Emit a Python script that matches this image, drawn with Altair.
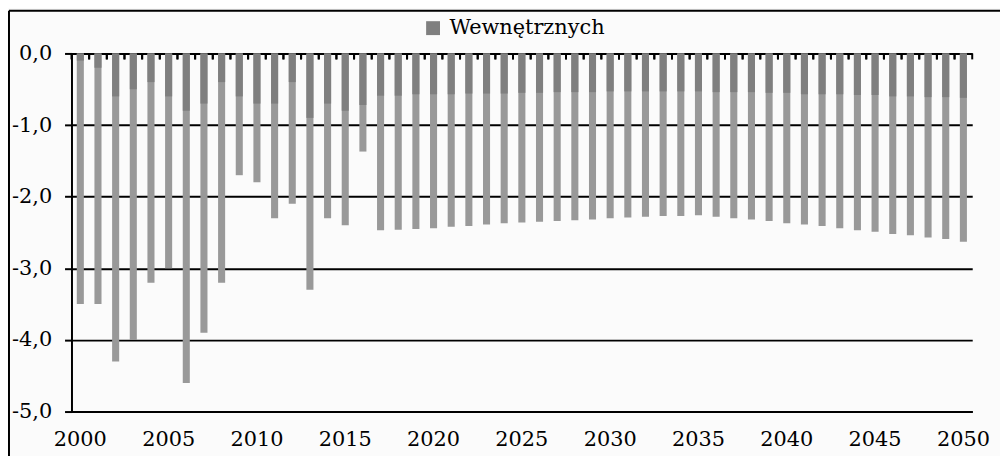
import altair as alt
import pandas as pd

years = list(range(2000, 2051))
label_years = [2000, 2005, 2010, 2015, 2020, 2025, 2030, 2035, 2040, 2045, 2050]

# "Wewnętrznych" (dark segment)
wewn = [-0.10, -0.20, -0.60, -0.50, -0.40, -0.60, -0.80, -0.70, -0.40, -0.60,
        -0.70, -0.70, -0.40, -0.90, -0.70, -0.80, -0.72, -0.59, -0.59, -0.57,
        -0.57, -0.57, -0.56, -0.56, -0.56, -0.55, -0.55, -0.54, -0.54, -0.54,
        -0.53, -0.53, -0.53, -0.53, -0.53, -0.53, -0.54, -0.54, -0.54, -0.55,
        -0.55, -0.57, -0.57, -0.57, -0.58, -0.58, -0.60, -0.60, -0.61, -0.61,
        -0.62]

# full bar length (light bar)
ogolem = [-3.50, -3.50, -4.30, -4.00, -3.20, -3.00, -4.60, -3.90, -3.20, -1.70,
          -1.80, -2.30, -2.10, -3.30, -2.30, -2.40, -1.37, -2.47, -2.46, -2.45,
          -2.44, -2.42, -2.41, -2.39, -2.37, -2.36, -2.35, -2.34, -2.33, -2.32,
          -2.30, -2.29, -2.28, -2.27, -2.27, -2.26, -2.28, -2.30, -2.32, -2.34,
          -2.37, -2.39, -2.41, -2.44, -2.47, -2.49, -2.52, -2.54, -2.57, -2.59,
          -2.63]

series_name = "Wewnętrznych"

df = pd.DataFrame({
    "rok": years,
    "wewn": wewn,
    "ogolem": ogolem,
    "seria": [series_name] * len(years),
})

FONT = "DejaVu Serif"
FS = 21

x_enc = alt.X(
    "rok:O",
    scale=alt.Scale(paddingInner=0, paddingOuter=0),
    axis=alt.Axis(
        values=label_years, title=None, labelAngle=0, ticks=False,
        domain=True, domainColor="black", domainWidth=2,
        labelFontSize=FS, labelPadding=17, labelColor="black",
        labelFont=FONT, grid=False,
    ),
)

y_enc = alt.Y(
    "ogolem:Q",
    scale=alt.Scale(domain=[-5, 0], nice=False),
    axis=alt.Axis(
        values=[-5, -4, -3, -2, -1, 0],
        labelExpr="(datum.value < 0 ? '-' : '') + replace(format(abs(datum.value), '.1f'), '.', ',')",
        title=None, grid=True, gridColor="black", gridWidth=2,
        domainColor="black", domainWidth=2, tickColor="black", tickWidth=2,
        tickSize=7, labelPadding=13, labelFontSize=FS, labelColor="black",
        labelFont=FONT,
    ),
)

light = alt.Chart(df).mark_bar(
    color="#999999", width=alt.RelativeBandSize(0.4)
).encode(x=x_enc, y=y_enc)

dark = alt.Chart(df).mark_bar(width=alt.RelativeBandSize(0.4)).encode(
    x=alt.X("rok:O"),
    y=alt.Y("wewn:Q", title=None),
    color=alt.Color(
        "seria:N",
        scale=alt.Scale(domain=[series_name], range=["#7f7f7f"]),
        legend=alt.Legend(
            title=None, orient="none", legendX=354, legendY=-36,
            symbolType="square", symbolSize=196, symbolStrokeWidth=0,
            labelFontSize=FS, labelFont=FONT, labelColor="black",
            labelOffset=6, labelLimit=400,
        ),
    ),
)

ticks_l = alt.Chart(df).mark_rule(color="black", strokeWidth=2).encode(
    x=alt.X("rok:O", bandPosition=0), y=alt.value(0), y2=alt.value(6)
)
ticks_r = alt.Chart(df).mark_rule(color="black", strokeWidth=2).encode(
    x=alt.X("rok:O", bandPosition=1), y=alt.value(0), y2=alt.value(6)
)

border_df = pd.DataFrame({"k": [0]})
border_left = alt.Chart(border_df).mark_rule(color="black", strokeWidth=2).encode(
    x=alt.value(-63), y=alt.value(-43), y2=alt.value(420)
)
border_top = alt.Chart(border_df).mark_rule(color="black", strokeWidth=2).encode(
    x=alt.value(-63), x2=alt.value(936), y=alt.value(-43)
)

chart = alt.layer(
    light, dark, ticks_l, ticks_r, border_left, border_top
).properties(
    width=908, height=361,
    padding={"left": 64, "top": 44, "right": 28, "bottom": 43},
    autosize="none",
    background="#fbfbfb",
).configure(font=FONT).configure_view(stroke=None)

chart.save("out.html", embed_options={"renderer": "svg", "actions": False})
